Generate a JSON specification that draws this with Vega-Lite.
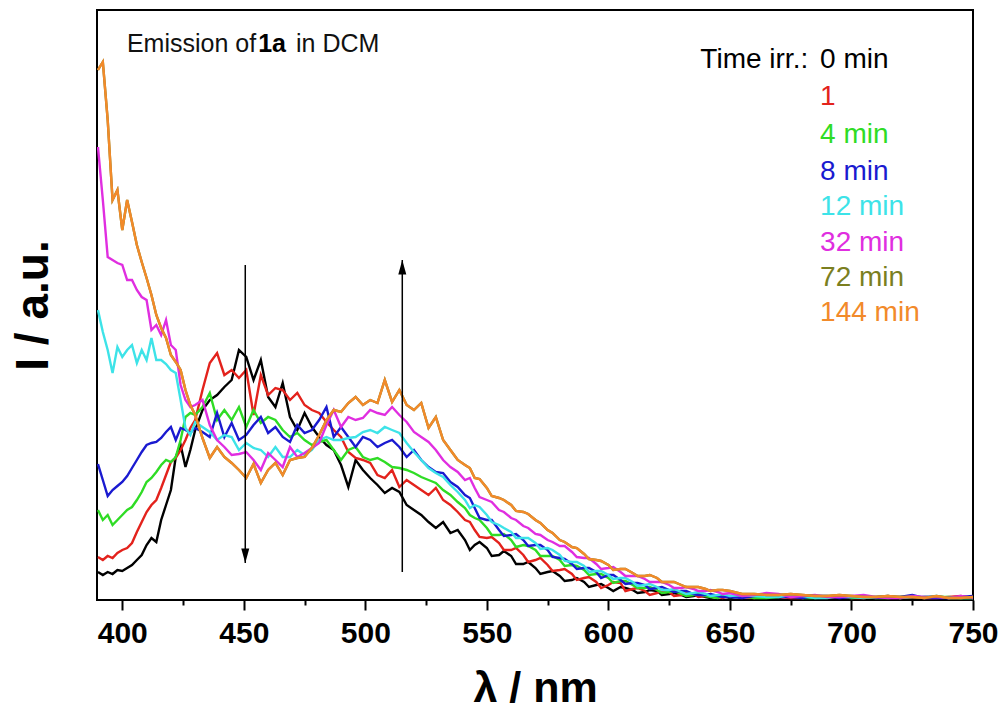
{
  "$schema": "https://vega.github.io/schema/vega-lite/v6.json",
  "width": 876,
  "height": 590,
  "autosize": {"type": "none"},
  "padding": {"left": 97, "top": 10, "right": 29, "bottom": 111},
  "background": "white",
  "config": {"view": {"stroke": "#000", "strokeWidth": 2}, "font": "Liberation Sans"},
  "datasets": {
    "spectra": [
      {"x":390,"t0":28,"t1":43,"t4":90,"t8":136,"t12":290,"t32":453,"t72":530,"t144":530},
      {"x":392,"t0":25,"t1":40,"t4":80,"t8":120,"t12":268,"t32":400,"t72":538,"t144":538},
      {"x":394,"t0":28,"t1":44,"t4":85,"t8":104,"t12":250,"t32":343,"t72":480,"t144":480},
      {"x":396,"t0":26,"t1":42,"t4":75,"t8":110,"t12":227,"t32":340,"t72":400,"t144":400},
      {"x":398,"t0":30,"t1":47,"t4":80,"t8":114,"t12":253,"t32":337,"t72":410,"t144":410},
      {"x":400,"t0":29,"t1":50,"t4":85,"t8":118,"t12":243,"t32":335,"t72":370,"t144":370},
      {"x":402,"t0":32,"t1":52,"t4":90,"t8":124,"t12":250,"t32":320,"t72":400,"t144":400},
      {"x":404,"t0":35,"t1":57,"t4":93,"t8":132,"t12":255,"t32":320,"t72":378,"t144":378},
      {"x":406,"t0":40,"t1":68,"t4":100,"t8":140,"t12":237,"t32":310,"t72":355,"t144":355},
      {"x":408,"t0":45,"t1":78,"t4":108,"t8":148,"t12":250,"t32":303,"t72":338,"t144":338},
      {"x":410,"t0":55,"t1":88,"t4":118,"t8":155,"t12":240,"t32":300,"t72":322,"t144":322},
      {"x":412,"t0":62,"t1":95,"t4":122,"t8":157,"t12":262,"t32":270,"t72":305,"t144":305},
      {"x":414,"t0":58,"t1":100,"t4":128,"t8":158,"t12":240,"t32":275,"t72":285,"t144":285},
      {"x":416,"t0":80,"t1":112,"t4":135,"t8":162,"t12":240,"t32":265,"t72":272,"t144":272},
      {"x":418,"t0":95,"t1":125,"t4":140,"t8":168,"t12":236,"t32":280,"t72":262,"t144":262},
      {"x":420,"t0":110,"t1":138,"t4":138,"t8":173,"t12":230,"t32":255,"t72":245,"t144":245},
      {"x":422,"t0":143,"t1":142,"t4":143,"t8":160,"t12":227,"t32":250,"t72":238,"t144":238},
      {"x":424,"t0":155,"t1":150,"t4":160,"t8":172,"t12":200,"t32":215,"t72":230,"t144":230},
      {"x":426,"t0":133,"t1":160,"t4":183,"t8":170,"t12":172,"t32":200,"t72":210,"t144":210},
      {"x":428,"t0":150,"t1":172,"t4":187,"t8":167,"t12":165,"t32":193,"t72":195,"t144":195},
      {"x":430,"t0":170,"t1":180,"t4":185,"t8":172,"t12":178,"t32":195,"t72":185,"t144":185},
      {"x":433,"t0":190,"t1":210,"t4":193,"t8":168,"t12":173,"t32":200,"t72":162,"t144":162},
      {"x":436,"t0":200,"t1":237,"t4":207,"t8":163,"t12":168,"t32":175,"t72":142,"t144":142},
      {"x":439,"t0":205,"t1":247,"t4":180,"t8":187,"t12":160,"t32":160,"t72":153,"t144":153},
      {"x":442,"t0":213,"t1":225,"t4":190,"t8":163,"t12":165,"t32":153,"t72":143,"t144":143},
      {"x":445,"t0":220,"t1":230,"t4":180,"t8":177,"t12":163,"t32":145,"t72":137,"t144":137},
      {"x":448,"t0":250,"t1":222,"t4":193,"t8":160,"t12":150,"t32":146,"t72":130,"t144":130},
      {"x":451,"t0":243,"t1":230,"t4":173,"t8":165,"t12":157,"t32":148,"t72":122,"t144":122},
      {"x":454,"t0":220,"t1":185,"t4":190,"t8":175,"t12":152,"t32":140,"t72":136,"t144":136},
      {"x":457,"t0":240,"t1":225,"t4":177,"t8":183,"t12":150,"t32":130,"t72":117,"t144":117},
      {"x":460,"t0":203,"t1":205,"t4":183,"t8":167,"t12":143,"t32":147,"t72":130,"t144":130},
      {"x":463,"t0":193,"t1":212,"t4":180,"t8":173,"t12":153,"t32":140,"t72":137,"t144":137},
      {"x":466,"t0":217,"t1":210,"t4":170,"t8":163,"t12":143,"t32":133,"t72":125,"t144":125},
      {"x":469,"t0":183,"t1":200,"t4":163,"t8":158,"t12":143,"t32":153,"t72":140,"t144":140},
      {"x":472,"t0":170,"t1":207,"t4":167,"t8":175,"t12":150,"t32":143,"t72":142,"t144":142},
      {"x":475,"t0":187,"t1":195,"t4":160,"t8":167,"t12":145,"t32":147,"t72":143,"t144":143},
      {"x":478,"t0":173,"t1":190,"t4":155,"t8":170,"t12":150,"t32":152,"t72":152,"t144":152},
      {"x":481,"t0":163,"t1":187,"t4":158,"t8":180,"t12":160,"t32":157,"t72":165,"t144":165},
      {"x":484,"t0":155,"t1":178,"t4":160,"t8":193,"t12":163,"t32":175,"t72":180,"t144":180},
      {"x":487,"t0":150,"t1":170,"t4":150,"t8":163,"t12":160,"t32":190,"t72":190,"t144":190},
      {"x":490,"t0":135,"t1":163,"t4":140,"t8":173,"t12":160,"t32":173,"t72":188,"t144":188},
      {"x":493,"t0":113,"t1":148,"t4":150,"t8":163,"t12":162,"t32":183,"t72":197,"t144":197},
      {"x":496,"t0":140,"t1":142,"t4":153,"t8":153,"t12":163,"t32":180,"t72":203,"t144":203},
      {"x":499,"t0":130,"t1":140,"t4":143,"t8":163,"t12":168,"t32":182,"t72":195,"t144":195},
      {"x":502,"t0":122,"t1":137,"t4":140,"t8":160,"t12":170,"t32":190,"t72":200,"t144":200},
      {"x":505,"t0":115,"t1":125,"t4":142,"t8":153,"t12":167,"t32":187,"t72":197,"t144":197},
      {"x":508,"t0":107,"t1":122,"t4":138,"t8":157,"t12":173,"t32":185,"t72":220,"t144":220},
      {"x":511,"t0":112,"t1":130,"t4":133,"t8":160,"t12":170,"t32":193,"t72":198,"t144":198},
      {"x":514,"t0":108,"t1":113,"t4":132,"t8":153,"t12":167,"t32":185,"t72":210,"t144":210},
      {"x":517,"t0":95,"t1":120,"t4":130,"t8":143,"t12":157,"t32":178,"t72":195,"t144":195},
      {"x":520,"t0":90,"t1":115,"t4":127,"t8":150,"t12":148,"t32":168,"t72":190,"t144":190},
      {"x":523,"t0":85,"t1":110,"t4":123,"t8":140,"t12":140,"t32":163,"t72":197,"t144":197},
      {"x":526,"t0":78,"t1":105,"t4":120,"t8":133,"t12":132,"t32":158,"t72":172,"t144":172},
      {"x":529,"t0":72,"t1":112,"t4":117,"t8":128,"t12":127,"t32":150,"t72":183,"t144":183},
      {"x":532,"t0":78,"t1":100,"t4":110,"t8":127,"t12":123,"t32":140,"t72":160,"t144":160},
      {"x":535,"t0":67,"t1":95,"t4":105,"t8":118,"t12":115,"t32":133,"t72":150,"t144":150},
      {"x":538,"t0":70,"t1":88,"t4":98,"t8":113,"t12":108,"t32":128,"t72":140,"t144":140},
      {"x":541,"t0":60,"t1":80,"t4":92,"t8":105,"t12":100,"t32":120,"t72":135,"t144":135},
      {"x":543,"t0":50,"t1":78,"t4":85,"t8":102,"t12":92,"t32":122,"t72":132,"t144":132},
      {"x":545,"t0":55,"t1":70,"t4":82,"t8":92,"t12":95,"t32":112,"t72":122,"t144":122},
      {"x":547,"t0":58,"t1":63,"t4":80,"t8":82,"t12":93,"t32":103,"t72":121,"t144":121},
      {"x":550,"t0":52,"t1":62,"t4":72,"t8":80,"t12":85,"t32":100,"t72":112,"t144":112},
      {"x":552,"t0":44,"t1":63,"t4":65,"t8":80,"t12":78,"t32":98,"t72":104,"t144":104},
      {"x":555,"t0":45,"t1":57,"t4":65,"t8":70,"t12":75,"t32":90,"t72":102,"t144":102},
      {"x":557,"t0":49,"t1":50,"t4":66,"t8":64,"t12":72,"t32":88,"t72":100,"t144":100},
      {"x":560,"t0":44,"t1":50,"t4":60,"t8":65,"t12":68,"t32":82,"t72":95,"t144":95},
      {"x":562,"t0":36,"t1":52,"t4":53,"t8":66,"t12":62,"t32":80,"t72":89,"t144":89},
      {"x":565,"t0":36,"t1":45,"t4":55,"t8":60,"t12":62,"t32":74,"t72":88,"t144":88},
      {"x":567,"t0":38,"t1":38,"t4":54,"t8":54,"t12":62,"t32":72,"t72":86,"t144":86},
      {"x":570,"t0":32,"t1":40,"t4":50,"t8":55,"t12":57,"t32":66,"t72":80,"t144":80},
      {"x":572,"t0":26,"t1":42,"t4":44,"t8":55,"t12":51,"t32":65,"t72":77,"t144":77},
      {"x":575,"t0":28,"t1":35,"t4":44,"t8":50,"t12":52,"t32":60,"t72":70,"t144":70},
      {"x":577,"t0":29,"t1":29,"t4":44,"t8":43,"t12":50,"t32":58,"t72":67,"t144":67},
      {"x":580,"t0":24,"t1":30,"t4":40,"t8":42,"t12":45,"t32":54,"t72":60,"t144":60},
      {"x":582,"t0":19,"t1":31,"t4":34,"t8":41,"t12":39,"t32":54,"t72":58,"t144":58},
      {"x":585,"t0":20,"t1":26,"t4":35,"t8":36,"t12":38,"t32":48,"t72":53,"t144":53},
      {"x":587,"t0":22,"t1":20,"t4":34,"t8":31,"t12":38,"t32":43,"t72":52,"t144":52},
      {"x":590,"t0":18,"t1":22,"t4":30,"t8":32,"t12":34,"t32":42,"t72":46,"t144":46},
      {"x":592,"t0":13,"t1":23,"t4":25,"t8":32,"t12":28,"t32":42,"t72":41,"t144":41},
      {"x":595,"t0":15,"t1":18,"t4":26,"t8":28,"t12":29,"t32":36,"t72":40,"t144":40},
      {"x":597,"t0":16,"t1":12,"t4":26,"t8":22,"t12":29,"t32":31,"t72":39,"t144":39},
      {"x":600,"t0":12,"t1":15,"t4":22,"t8":25,"t12":25,"t32":32,"t72":35,"t144":35},
      {"x":602,"t0":9,"t1":18,"t4":17,"t8":25,"t12":21,"t32":33,"t72":30,"t144":30},
      {"x":605,"t0":13,"t1":17,"t4":19,"t8":20,"t12":22,"t32":28,"t72":31,"t144":31},
      {"x":607,"t0":12,"t1":9,"t4":19,"t8":16,"t12":22,"t32":24,"t72":31,"t144":31},
      {"x":610,"t0":10,"t1":11,"t4":15,"t8":17,"t12":18,"t32":24,"t72":27,"t144":27},
      {"x":612,"t0":7,"t1":12,"t4":12,"t8":17,"t12":14,"t32":24,"t72":24,"t144":24},
      {"x":615,"t0":8,"t1":9,"t4":12,"t8":15,"t12":15,"t32":21,"t72":24,"t144":24},
      {"x":617,"t0":10,"t1":5,"t4":13,"t8":11,"t12":16,"t32":18,"t72":25,"t144":25},
      {"x":620,"t0":9,"t1":7,"t4":10,"t8":12,"t12":13,"t32":18,"t72":22,"t144":22},
      {"x":622,"t0":5,"t1":9,"t4":7,"t8":13,"t12":10,"t32":18,"t72":18,"t144":18},
      {"x":625,"t0":6,"t1":8,"t4":8,"t8":10,"t12":10,"t32":15,"t72":18,"t144":18},
      {"x":627,"t0":7,"t1":4,"t4":9,"t8":8,"t12":11,"t32":12,"t72":18,"t144":18},
      {"x":630,"t0":5,"t1":5,"t4":6,"t8":9,"t12":8,"t32":12,"t72":15,"t144":15},
      {"x":632,"t0":3,"t1":7,"t4":4,"t8":9,"t12":6,"t32":13,"t72":13,"t144":13},
      {"x":635,"t0":4,"t1":6,"t4":5,"t8":6,"t12":7,"t32":11,"t72":13,"t144":13},
      {"x":637,"t0":5,"t1":3,"t4":6,"t8":5,"t12":8,"t32":9,"t72":13,"t144":13},
      {"x":640,"t0":3,"t1":4,"t4":4,"t8":5,"t12":6,"t32":9,"t72":11,"t144":11},
      {"x":642,"t0":2,"t1":5,"t4":3,"t8":6,"t12":4,"t32":10,"t72":9,"t144":9},
      {"x":645,"t0":4,"t1":3,"t4":2,"t8":4,"t12":5,"t32":8,"t72":10,"t144":10},
      {"x":647,"t0":4,"t1":2,"t4":4,"t8":3,"t12":6,"t32":6,"t72":10,"t144":10},
      {"x":650,"t0":2,"t1":4,"t4":3,"t8":3,"t12":4,"t32":7,"t72":9,"t144":9},
      {"x":655,"t0":4,"t1":3,"t4":4,"t8":2,"t12":5,"t32":4,"t72":6,"t144":6},
      {"x":660,"t0":3,"t1":2,"t4":2,"t8":4,"t12":4,"t32":5,"t72":6,"t144":6},
      {"x":665,"t0":2,"t1":4,"t4":2,"t8":5,"t12":3,"t32":7,"t72":5,"t144":5},
      {"x":670,"t0":2,"t1":3,"t4":3,"t8":3,"t12":3,"t32":6,"t72":5,"t144":5},
      {"x":675,"t0":4,"t1":2,"t4":4,"t8":3,"t12":5,"t32":3,"t72":6,"t144":6},
      {"x":680,"t0":3,"t1":2,"t4":2,"t8":2,"t12":4,"t32":4,"t72":5,"t144":5},
      {"x":685,"t0":3,"t1":4,"t4":2,"t8":4,"t12":2,"t32":5,"t72":4,"t144":4},
      {"x":690,"t0":2,"t1":3,"t4":3,"t8":4,"t12":2,"t32":3,"t72":4,"t144":4},
      {"x":695,"t0":2,"t1":3,"t4":4,"t8":2,"t12":4,"t32":3,"t72":5,"t144":5},
      {"x":700,"t0":3,"t1":2,"t4":2,"t8":3,"t12":3,"t32":4,"t72":4,"t144":4},
      {"x":705,"t0":4,"t1":2,"t4":3,"t8":4,"t12":2,"t32":5,"t72":3,"t144":3},
      {"x":710,"t0":2,"t1":3,"t4":2,"t8":2,"t12":3,"t32":3,"t72":3,"t144":3},
      {"x":715,"t0":3,"t1":4,"t4":2,"t8":3,"t12":4,"t32":2,"t72":4,"t144":4},
      {"x":720,"t0":2,"t1":2,"t4":3,"t8":3,"t12":2,"t32":2,"t72":3,"t144":3},
      {"x":725,"t0":2,"t1":3,"t4":4,"t8":5,"t12":3,"t32":4,"t72":3,"t144":3},
      {"x":730,"t0":3,"t1":2,"t4":2,"t8":2,"t12":3,"t32":3,"t72":2,"t144":2},
      {"x":735,"t0":3,"t1":2,"t4":3,"t8":2,"t12":4,"t32":3,"t72":4,"t144":4},
      {"x":740,"t0":2,"t1":3,"t4":3,"t8":2,"t12":2,"t32":2,"t72":2,"t144":2},
      {"x":745,"t0":2,"t1":4,"t4":2,"t8":3,"t12":2,"t32":4,"t72":2,"t144":2},
      {"x":750,"t0":3,"t1":2,"t4":2,"t8":4,"t12":2,"t32":2,"t72":3,"t144":3}
    ],
    "legend": [
      {"label":"0 min","key":"t0","x":687.1,"y":540},
      {"label":"1","key":"t1","x":687.1,"y":503},
      {"label":"4 min","key":"t4","x":687.1,"y":465},
      {"label":"8 min","key":"t8","x":687.1,"y":428},
      {"label":"12 min","key":"t12","x":687.1,"y":393},
      {"label":"32 min","key":"t32","x":687.1,"y":357},
      {"label":"72 min","key":"t72","x":687.1,"y":322},
      {"label":"144 min","key":"t144","x":687.1,"y":287}
    ],
    "notes": [
      {"part":"head","text":"Time irr.:","x":682.2,"y":540},
      {"part":"plain","text":"Emission of","x":401.9,"y":556},
      {"part":"bold","text":"1a","x":455.9,"y":556},
      {"part":"plain","text":"in DCM","x":471.5,"y":556}
    ],
    "arrows": [
      {"dir":"down","x":450.6,"y":335,"y2":37},
      {"dir":"up","x":515.2,"y":28,"y2":340}
    ]
  },
  "resolve": {"axis": {"x": "independent", "y": "independent"}},
  "layer": [
    {
      "data": {"name": "spectra"},
      "transform": [{"fold": ["t0","t1","t4","t8","t12","t32","t72","t144"], "as": ["key","I"]}],
      "mark": {"type": "line", "strokeWidth": 2.4, "clip": true},
      "encoding": {
        "x": {"field": "x", "type": "quantitative",
              "scale": {"domain": [389.6, 750], "nice": false, "zero": false},
              "axis": {"orient": "bottom", "values": [400,450,500,550,600,650,700,750], "grid": false, "domain": false,
                       "ticks": true, "tickSize": 10, "tickWidth": 2, "tickColor": "#000",
                       "labelFont": "Liberation Sans", "labelFontWeight": "bold", "labelFontSize": 30, "labelColor": "#000",
                       "labelPadding": 8, "labelFlush": false, "labelOverlap": false,
                       "title": "λ / nm", "titleFont": "Liberation Sans", "titleFontSize": 43, "titleFontWeight": "bold",
                       "titleColor": "#000", "titlePadding": 19}},
        "y": {"field": "I", "type": "quantitative",
              "scale": {"domain": [0, 590], "nice": false, "zero": false},
              "axis": {"orient": "left", "title": "I / a.u.", "labels": false, "ticks": false, "domain": false, "grid": false,
                       "titleFont": "Liberation Sans", "titleFontSize": 46, "titleFontWeight": "bold", "titleColor": "#000",
                       "titlePadding": 40}},
        "color": {"field": "key", "type": "nominal",
                  "scale": {"domain": ["t0","t1","t4","t8","t12","t32","t72","t144"],
                            "range": ["#000000","#e3221c","#2fdc25","#1a1ad0","#3de3e8","#e02ee0","#7b7f1f","#f28a2a"]},
                  "legend": null}
      }
    },
    {
      "data": {"name": "arrows"},
      "mark": {"type": "rule", "strokeWidth": 1.5, "color": "#000"},
      "encoding": {
        "x": {"field": "x", "type": "quantitative",
              "axis": {"orient": "bottom", "values": [425,475,525,575,625,675,725], "labels": false, "domain": false,
                       "grid": false, "ticks": true, "tickSize": 5, "tickWidth": 2, "tickColor": "#000", "title": null}},
        "y": {"field": "y", "type": "quantitative", "axis": null},
        "y2": {"field": "y2"}
      }
    },
    {
      "data": {"name": "arrows"},
      "mark": {"type": "point", "filled": true, "color": "#000", "opacity": 1, "size": 256, "strokeWidth": 0},
      "encoding": {
        "x": {"field": "x", "type": "quantitative", "axis": null},
        "y": {"field": "y2", "type": "quantitative", "axis": null},
        "shape": {"field": "dir", "type": "nominal",
                  "scale": {"domain": ["down","up"], "range": ["M0,0L-0.5,-1.8L0.5,-1.8Z","M0,0L-0.5,1.8L0.5,1.8Z"]},
                  "legend": null}
      }
    },
    {
      "data": {"name": "legend"},
      "mark": {"type": "text", "align": "left", "baseline": "middle", "fontSize": 28, "font": "Liberation Sans"},
      "encoding": {
        "x": {"field": "x", "type": "quantitative", "axis": null},
        "y": {"field": "y", "type": "quantitative", "axis": null},
        "text": {"field": "label"},
        "color": {"field": "key", "type": "nominal", "legend": null}
      }
    },
    {
      "data": {"name": "notes"},
      "transform": [{"filter": "datum.part === 'head'"}],
      "mark": {"type": "text", "align": "right", "baseline": "middle", "fontSize": 28, "font": "Liberation Sans", "color": "#000"},
      "encoding": {
        "x": {"field": "x", "type": "quantitative", "axis": null},
        "y": {"field": "y", "type": "quantitative", "axis": null},
        "text": {"field": "text"}
      }
    },
    {
      "data": {"name": "notes"},
      "transform": [{"filter": "datum.part === 'plain'"}],
      "mark": {"type": "text", "align": "left", "baseline": "middle", "fontSize": 25, "font": "Liberation Sans", "color": "#111"},
      "encoding": {
        "x": {"field": "x", "type": "quantitative", "axis": null},
        "y": {"field": "y", "type": "quantitative", "axis": null},
        "text": {"field": "text"}
      }
    },
    {
      "data": {"name": "notes"},
      "transform": [{"filter": "datum.part === 'bold'"}],
      "mark": {"type": "text", "align": "left", "baseline": "middle", "fontSize": 25, "fontWeight": "bold", "font": "Liberation Sans", "color": "#000"},
      "encoding": {
        "x": {"field": "x", "type": "quantitative", "axis": null},
        "y": {"field": "y", "type": "quantitative", "axis": null},
        "text": {"field": "text"}
      }
    }
  ]
}
